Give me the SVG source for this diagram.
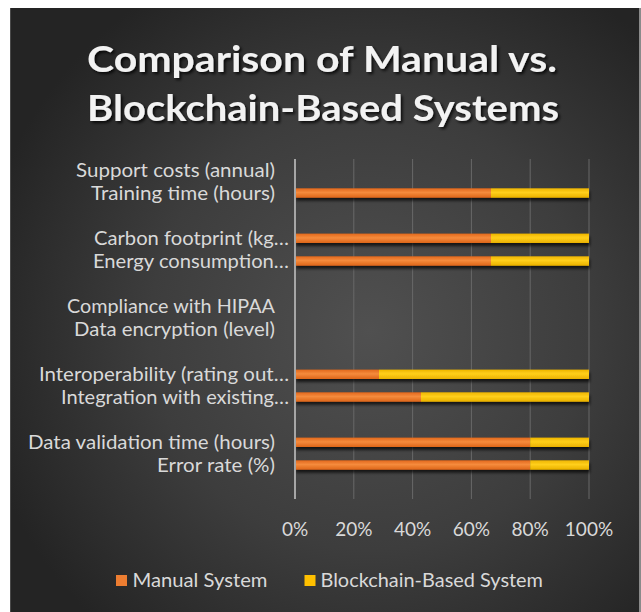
<svg xmlns="http://www.w3.org/2000/svg" width="641" height="612" viewBox="0 0 641 612">
  <defs>
    <radialGradient id="bgGrad" cx="370" cy="330" r="400" gradientUnits="userSpaceOnUse">
      <stop offset="0" stop-color="#505050"/>
      <stop offset="0.55" stop-color="#3d3d3d"/>
      <stop offset="1" stop-color="#242424"/>
    </radialGradient>
    <linearGradient id="orangeGrad" x1="0" y1="0" x2="0" y2="1">
      <stop offset="0" stop-color="#e2681c"/>
      <stop offset="0.45" stop-color="#f58b3c"/>
      <stop offset="1" stop-color="#dd6519"/>
    </linearGradient>
    <linearGradient id="yellowGrad" x1="0" y1="0" x2="0" y2="1">
      <stop offset="0" stop-color="#eeb500"/>
      <stop offset="0.45" stop-color="#ffcf1a"/>
      <stop offset="1" stop-color="#e9b000"/>
    </linearGradient>
    <filter id="barShadow" x="-5%" y="-50%" width="110%" height="250%">
      <feGaussianBlur in="SourceAlpha" stdDeviation="1.5"/>
      <feOffset dx="1" dy="2.5" result="off"/>
      <feComponentTransfer><feFuncA type="linear" slope="0.7"/></feComponentTransfer>
      <feMerge><feMergeNode/><feMergeNode in="SourceGraphic"/></feMerge>
    </filter>
    <filter id="titleShadow" x="-5%" y="-20%" width="110%" height="150%">
      <feGaussianBlur in="SourceAlpha" stdDeviation="1.5"/>
      <feOffset dx="1.5" dy="2" result="off"/>
      <feComponentTransfer><feFuncA type="linear" slope="0.8"/></feComponentTransfer>
      <feMerge><feMergeNode/><feMergeNode in="SourceGraphic"/></feMerge>
    </filter>
  </defs>
  <style>
    .title { font-family: Lato, "Open Sans", sans-serif; font-weight: bold; font-size: 37px; fill: #f2f2f2; text-anchor: middle; }
    .cat { font-family: Lato, "Open Sans", sans-serif; font-size: 19px; fill: #d9d9d9; text-anchor: end; }
    .tick { font-family: Lato, "Open Sans", sans-serif; font-size: 19px; fill: #d9d9d9; text-anchor: middle; }
    .leg { font-family: Lato, "Open Sans", sans-serif; font-size: 19px; fill: #d9d9d9; }
    .grid { stroke: #686868; stroke-width: 1; }
    .axis { stroke: #a6a6a6; stroke-width: 2; }
    .manual { fill: url(#orangeGrad); }
    .chain { fill: url(#yellowGrad); }
  </style>

  <!-- page and chart area -->
  <rect x="0" y="0" width="641" height="612" fill="#ffffff"/>
  <rect x="10" y="8" width="631" height="604" fill="url(#bgGrad)"/>
  <line x1="640" y1="8" x2="640" y2="612" stroke="#8a8a8a" stroke-width="2"/>
  <line x1="10.5" y1="8" x2="10.5" y2="612" stroke="#4a4a4a" stroke-width="1"/>

  <!-- title -->
  <g id="title" filter="url(#titleShadow)">
    <text class="title" x="322" y="72" textLength="470" lengthAdjust="spacingAndGlyphs">Comparison of Manual vs.</text>
    <text class="title" x="323" y="121" textLength="472" lengthAdjust="spacingAndGlyphs">Blockchain-Based Systems</text>
  </g>

  <!-- gridlines and value axis -->
  <g id="gridlines">
    <line class="grid" x1="353.8" y1="159" x2="353.8" y2="499"/>
    <line class="grid" x1="412.6" y1="159" x2="412.6" y2="499"/>
    <line class="grid" x1="471.4" y1="159" x2="471.4" y2="499"/>
    <line class="grid" x1="530.2" y1="159" x2="530.2" y2="499"/>
    <line class="grid" x1="589" y1="159" x2="589" y2="499"/>
  </g>

  <!-- stacked 100% bars -->
  <g id="bars" filter="url(#barShadow)">
    <g id="bar-training">
      <rect class="manual" x="295" y="188.3" width="196" height="9.4"/>
      <rect class="chain" x="491" y="188.3" width="98" height="9.4"/>
    </g>
    <g id="bar-carbon">
      <rect class="manual" x="295" y="233.6" width="196" height="9.4"/>
      <rect class="chain" x="491" y="233.6" width="98" height="9.4"/>
    </g>
    <g id="bar-energy">
      <rect class="manual" x="295" y="256.3" width="196" height="9.4"/>
      <rect class="chain" x="491" y="256.3" width="98" height="9.4"/>
    </g>
    <g id="bar-interop">
      <rect class="manual" x="295" y="369.6" width="84" height="9.4"/>
      <rect class="chain" x="379" y="369.6" width="210" height="9.4"/>
    </g>
    <g id="bar-integration">
      <rect class="manual" x="295" y="392.3" width="126" height="9.4"/>
      <rect class="chain" x="421" y="392.3" width="168" height="9.4"/>
    </g>
    <g id="bar-validation">
      <rect class="manual" x="295" y="437.6" width="235.2" height="9.4"/>
      <rect class="chain" x="530.2" y="437.6" width="58.8" height="9.4"/>
    </g>
    <g id="bar-error">
      <rect class="manual" x="295" y="460.3" width="235.2" height="9.4"/>
      <rect class="chain" x="530.2" y="460.3" width="58.8" height="9.4"/>
    </g>
  </g>

  <line id="category-axis" class="axis" x1="295" y1="159" x2="295" y2="499"/>

  <!-- category labels -->
  <g id="category-labels">
    <text class="cat" x="275" y="176.8" textLength="199" lengthAdjust="spacingAndGlyphs">Support costs (annual)</text>
    <text class="cat" x="275" y="199.5" textLength="184" lengthAdjust="spacingAndGlyphs">Training time (hours)</text>
    <text class="cat" x="289" y="244.8" textLength="195" lengthAdjust="spacingAndGlyphs">Carbon footprint (kg…</text>
    <text class="cat" x="289" y="267.5" textLength="196" lengthAdjust="spacingAndGlyphs">Energy consumption…</text>
    <text class="cat" x="275" y="312.8" textLength="208" lengthAdjust="spacingAndGlyphs">Compliance with HIPAA</text>
    <text class="cat" x="275" y="335.5" textLength="201" lengthAdjust="spacingAndGlyphs">Data encryption (level)</text>
    <text class="cat" x="289" y="380.8" textLength="250" lengthAdjust="spacingAndGlyphs">Interoperability (rating out…</text>
    <text class="cat" x="289" y="403.5" textLength="228" lengthAdjust="spacingAndGlyphs">Integration with existing…</text>
    <text class="cat" x="275" y="448.8" textLength="247" lengthAdjust="spacingAndGlyphs">Data validation time (hours)</text>
    <text class="cat" x="275" y="471.5" textLength="118" lengthAdjust="spacingAndGlyphs">Error rate (%)</text>
  </g>

  <!-- value axis labels -->
  <g id="value-labels">
    <text class="tick" x="295" y="536">0%</text>
    <text class="tick" x="353.8" y="536">20%</text>
    <text class="tick" x="412.6" y="536">40%</text>
    <text class="tick" x="471.4" y="536">60%</text>
    <text class="tick" x="530.2" y="536">80%</text>
    <text class="tick" x="589" y="536">100%</text>
  </g>

  <!-- legend -->
  <g id="legend">
    <g id="legend-manual">
      <rect x="116" y="575" width="11" height="11" fill="#ed7d31"/>
      <text class="leg" x="132.5" y="587" textLength="135" lengthAdjust="spacingAndGlyphs">Manual System</text>
    </g>
    <g id="legend-blockchain">
      <rect x="304.5" y="575" width="11" height="11" fill="#ffc000"/>
      <text class="leg" x="320.5" y="587" textLength="222.5" lengthAdjust="spacingAndGlyphs">Blockchain-Based System</text>
    </g>
  </g>
</svg>
